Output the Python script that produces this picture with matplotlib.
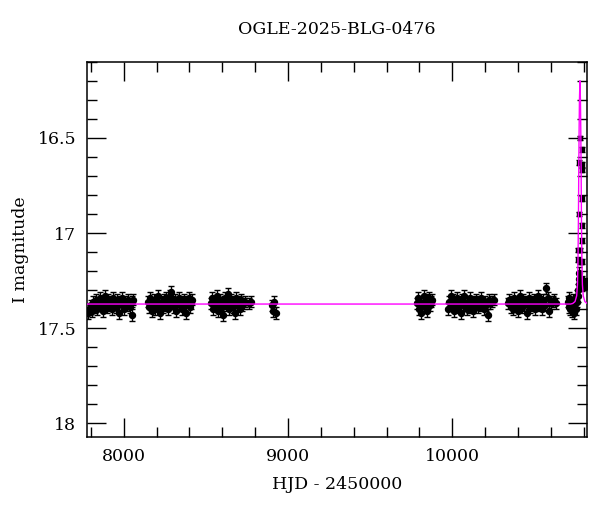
import matplotlib
matplotlib.use('Agg')
import matplotlib.pyplot as plt
from matplotlib.ticker import MultipleLocator, FixedLocator
import numpy as np

# dados (HJD - 2450000, magnitude I, erro)
t_s1 = [7785, 7792, 7800, 7808, 7815, 7822, 7830, 7838, 7845, 7853, 7860, 7868, 7875, 7883, 7890,
        7898, 7905, 7913, 7920, 7928, 7935, 7943, 7950, 7958, 7965, 7973, 7980, 7988, 7995, 8003,
        8010, 8018, 8025, 8033, 8040, 8048, 8052, 8058]
m_s1 = [17.42, 17.40, 17.38, 17.41, 17.36, 17.39, 17.35, 17.40, 17.37, 17.34, 17.38, 17.36, 17.41,
        17.33, 17.37, 17.39, 17.35, 17.38, 17.36, 17.40, 17.34, 17.37, 17.39, 17.35, 17.38, 17.42,
        17.36, 17.34, 17.37, 17.40, 17.36, 17.38, 17.35, 17.37, 17.39, 17.36, 17.43, 17.35]

t_s2 = [8148, 8155, 8162, 8170, 8177, 8185, 8192, 8200, 8207, 8215, 8222, 8230, 8237, 8245, 8252,
        8260, 8267, 8275, 8282, 8290, 8297, 8305, 8312, 8320, 8327, 8335, 8342, 8350, 8357, 8365,
        8372, 8380, 8387, 8395, 8402, 8410, 8417]
m_s2 = [17.36, 17.39, 17.34, 17.41, 17.37, 17.35, 17.40, 17.38, 17.33, 17.37, 17.42, 17.36, 17.39,
        17.35, 17.38, 17.34, 17.40, 17.37, 17.33, 17.31, 17.36, 17.39, 17.35, 17.41, 17.37, 17.34,
        17.38, 17.36, 17.40, 17.35, 17.38, 17.42, 17.36, 17.34, 17.39, 17.37, 17.35]

t_s3 = [8528, 8535, 8542, 8550, 8557, 8565, 8572, 8580, 8587, 8595, 8602, 8610, 8617, 8625, 8632,
        8640, 8647, 8655, 8662, 8670, 8677, 8685, 8692, 8700, 8707, 8715, 8722, 8730, 8740, 8760,
        8775]
m_s3 = [17.37, 17.34, 17.40, 17.36, 17.38, 17.33, 17.41, 17.37, 17.35, 17.39, 17.43, 17.36, 17.34,
        17.38, 17.32, 17.40, 17.37, 17.35, 17.39, 17.36, 17.42, 17.34, 17.38, 17.36, 17.40, 17.35,
        17.38, 17.37, 17.36, 17.37, 17.36]

t_s3b = [8903, 8910, 8917, 8925]
m_s3b = [17.38, 17.41, 17.36, 17.42]

t_s4 = [9785, 9792, 9798, 9805, 9812, 9818, 9825, 9832, 9838, 9845, 9852, 9858, 9865, 9872, 9878]
m_s4 = [17.37, 17.34, 17.40, 17.36, 17.42, 17.38, 17.33, 17.39, 17.35, 17.41, 17.37, 17.34, 17.38,
        17.36, 17.35]

t_s5 = [9975, 9982, 9990, 9997, 10005, 10012, 10020, 10027, 10035, 10042, 10050, 10057, 10065,
        10072, 10080, 10087, 10095, 10102, 10110, 10117, 10125, 10132, 10140, 10147, 10155, 10162,
        10170, 10177, 10185, 10192, 10200, 10207, 10215, 10222, 10230, 10240, 10252]
m_s5 = [17.40, 17.36, 17.33, 17.38, 17.35, 17.41, 17.37, 17.34, 17.39, 17.36, 17.42, 17.35, 17.38,
        17.33, 17.37, 17.40, 17.36, 17.39, 17.34, 17.38, 17.41, 17.36, 17.37, 17.35, 17.39, 17.36,
        17.38, 17.34, 17.37, 17.40, 17.36, 17.38, 17.43, 17.35, 17.37, 17.36, 17.35]

t_s6 = [10340, 10347, 10355, 10362, 10370, 10377, 10385, 10392, 10400, 10407, 10415, 10422, 10430,
        10437, 10445, 10452, 10460, 10467, 10475, 10482, 10490, 10497, 10505, 10512, 10520, 10527,
        10535, 10545, 10555, 10565, 10572, 10580, 10590, 10600, 10610, 10620, 10632]
m_s6 = [17.37, 17.35, 17.39, 17.36, 17.40, 17.34, 17.38, 17.36, 17.41, 17.37, 17.33, 17.39, 17.35,
        17.38, 17.36, 17.42, 17.37, 17.34, 17.39, 17.36, 17.38, 17.35, 17.40, 17.37, 17.33, 17.38,
        17.36, 17.40, 17.35, 17.38, 17.29, 17.34, 17.41, 17.37, 17.36, 17.35, 17.37]

t_s7 = [10703, 10708, 10713, 10718, 10722, 10727, 10732, 10737, 10742, 10748, 10752, 10757, 10760,
        10764, 10767, 10770, 10772, 10774]
m_s7 = [17.36, 17.39, 17.34, 17.40, 17.37, 17.41, 17.35, 17.38, 17.42, 17.36, 17.40, 17.33, 17.36,
        17.33, 17.30, 17.27, 17.24, 17.21]

# pontos do pico
t_pico = [10776, 10787, 10771, 10787, 10787, 10787, 10771, 10789, 10787, 10768, 10779, 10767,
          10787, 10776, 10790, 10795, 10800, 10805, 10810, 10792]
m_pico = [16.50, 16.56, 16.63, 16.64, 16.67, 16.82, 16.90, 16.96, 17.04, 17.09, 17.09, 17.14,
          17.15, 17.15, 17.24, 17.26, 17.27, 17.25, 17.28, 17.29]

err_base = 0.03
err_pico = 0.012

# modelo (linha magenta)
t_modelo = [7778, 10720, 10733, 10747, 10757, 10762, 10765, 10768, 10770, 10772, 10774, 10777,
            10780, 10782, 10784, 10786, 10789, 10792, 10797, 10807, 10821]
m_modelo = [17.373, 17.373, 17.37, 17.36, 17.33, 17.27, 17.15, 16.90, 16.65, 16.45, 16.30, 16.20,
            16.30, 16.45, 16.65, 16.90, 17.15, 17.27, 17.33, 17.36, 17.37]

plt.rcParams['font.family'] = 'DejaVu Serif'
plt.rcParams['font.size'] = 12

fig = plt.figure(figsize=(6, 5.12), dpi=100)
ax = fig.add_axes([0.1455, 0.147, 0.8323, 0.7325])

ax.plot(t_modelo, m_modelo, color='#ff00ff', linewidth=1.0, zorder=3)

t_base = t_s1 + t_s2 + t_s3 + t_s3b + t_s4 + t_s5 + t_s6 + t_s7
m_base = m_s1 + m_s2 + m_s3 + m_s3b + m_s4 + m_s5 + m_s6 + m_s7
ax.errorbar(t_base, m_base, yerr=err_base, fmt='o', color='black', markersize=4.3,
            elinewidth=1.0, capsize=2.4, capthick=1.0, zorder=2)
ax.errorbar(t_pico, m_pico, yerr=err_pico, fmt='s', color='black', markersize=3.0,
            elinewidth=1.0, capsize=2.4, capthick=1.0, zorder=2)

ax.set_xlim(7778, 10818)
ax.set_ylim(18.07, 16.1)

ax.xaxis.set_major_locator(FixedLocator([8000, 9000, 10000]))
ax.xaxis.set_minor_locator(MultipleLocator(200))
ax.yaxis.set_major_locator(FixedLocator([16.5, 17, 17.5, 18]))
ax.yaxis.set_minor_locator(MultipleLocator(0.1))
ax.set_yticklabels(['16.5', '17', '17.5', '18'])

ax.tick_params(which='both', direction='in', top=True, right=True, width=1.0, labelsize=12.5)
ax.tick_params(which='major', length=13.5, pad=8)
ax.tick_params(which='minor', length=7)
for s in ax.spines.values():
    s.set_linewidth(1.1)

ax.set_xlabel('HJD - 2450000', fontsize=12.5, labelpad=8)
ax.set_ylabel('I magnitude', fontsize=12.5, labelpad=6)
ax.set_title('OGLE-2025-BLG-0476', fontsize=12.5, pad=20)

fig.savefig('out.png', dpi=100)
